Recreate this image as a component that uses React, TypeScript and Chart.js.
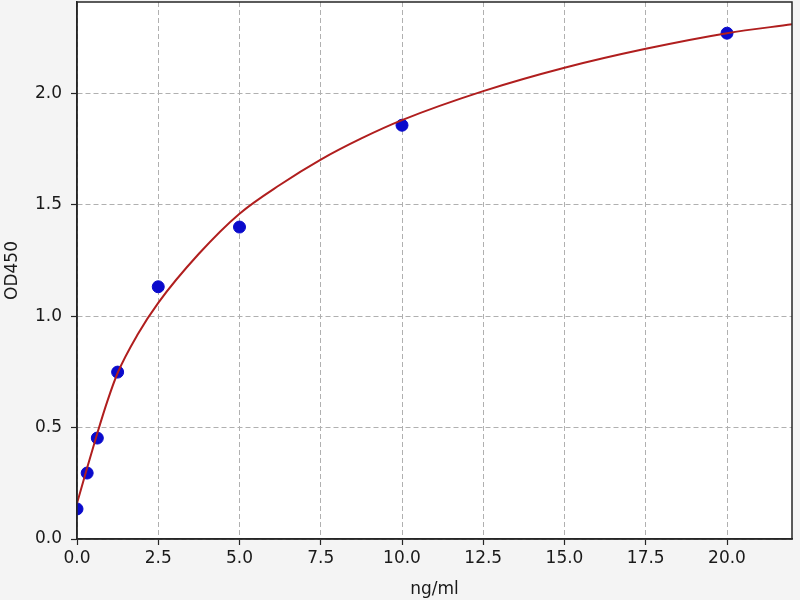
import React, { useEffect, useRef } from "react";
import { Chart, registerables } from "chart.js";

Chart.register(...registerables);

const concentrations = [0, 0.3125, 0.625, 1.25, 2.5, 5, 10, 20];
const odValues = [0.135, 0.296, 0.453, 0.749, 1.132, 1.4, 1.857, 2.27];

const curveX = [0, 0.3125, 0.625, 0.9375, 1.25, 1.875, 2.5, 3.75, 5, 6.25, 7.5, 8.75, 10, 12.5, 15, 17.5, 20, 22];
const curveY = [0.16, 0.32, 0.475, 0.62, 0.745, 0.92, 1.06, 1.28, 1.46, 1.59, 1.703, 1.798, 1.88, 2.01, 2.115, 2.2, 2.27, 2.31];

const xTicks = [0, 2.5, 5, 7.5, 10, 12.5, 15, 17.5, 20];
const yTicks = [0, 0.5, 1.0, 1.5, 2.0];

const bgPlugin = {
  id: "bgPlugin",
  beforeDraw(chart: any) {
    const { ctx, chartArea } = chart;
    ctx.save();
    ctx.fillStyle = "#f4f4f4";
    ctx.fillRect(0, 0, chart.width, chart.height);
    ctx.fillStyle = "#ffffff";
    ctx.fillRect(chartArea.left, chartArea.top, chartArea.right - chartArea.left, chartArea.bottom - chartArea.top);
    ctx.restore();
  },
  afterDraw(chart: any) {
    const { ctx, chartArea } = chart;
    ctx.save();
    ctx.strokeStyle = "#262626";
    ctx.lineWidth = 1.5;
    ctx.strokeRect(chartArea.left, chartArea.top, chartArea.right - chartArea.left, chartArea.bottom - chartArea.top);
    ctx.restore();
  },
};

export default function App() {
  const ref = useRef<HTMLCanvasElement>(null);

  useEffect(() => {
    document.body.style.margin = "0";
    const font = { family: "'DejaVu Sans', sans-serif", size: 17 };
    const chart = new Chart(ref.current as HTMLCanvasElement, {
      type: "scatter",
      data: {
        datasets: [
          {
            type: "line",
            data: curveX.map((x, i) => ({ x, y: curveY[i] })),
            borderColor: "#b01e1e",
            borderWidth: 2,
            pointRadius: 0,
            cubicInterpolationMode: "monotone",
            fill: false,
            order: 0,
            clip: 0,
          } as any,
          {
            type: "scatter",
            data: concentrations.map((x, i) => ({ x, y: odValues[i] })),
            backgroundColor: "#0a0acc",
            borderColor: "#0a0acc",
            pointRadius: 6,
            pointHoverRadius: 6,
            order: 1,
            clip: 0,
          } as any,
        ],
      },
      options: {
        animation: false,
        responsive: false,
        devicePixelRatio: 1,
        layout: { autoPadding: false, padding: { top: 2, right: 8, left: 0, bottom: 0 } },
        plugins: { legend: { display: false }, tooltip: { enabled: false } },
        scales: {
          x: {
            type: "linear",
            min: 0,
            max: 22,
            afterFit(scale: any) {
              scale.height = 61;
              scale.paddingLeft = 0;
              scale.paddingRight = 0;
            },
            afterBuildTicks(scale: any) {
              scale.ticks = xTicks.map((v) => ({ value: v }));
            },
            ticks: {
              includeBounds: false,
              font,
              color: "#1a1a1a",
              padding: 3,
              maxRotation: 0,
              autoSkip: false,
              callback: (v: any) => Number(v).toFixed(1),
            },
            grid: {
              color: "#b0b0b0",
              lineWidth: 1,
              tickColor: "#262626",
              tickLength: 6,
              tickWidth: 1.2,
              tickBorderDash: [],
              drawOnChartArea: true,
            } as any,
            border: { display: true, color: "#262626", width: 1.5, dash: [5, 3] } as any,
            title: {
              display: true,
              text: "ng/ml",
              font,
              color: "#1a1a1a",
              padding: { top: 0, bottom: 0 },
            },
          },
          y: {
            type: "linear",
            min: 0,
            max: 2.41,
            afterFit(scale: any) {
              scale.width = 77;
              scale.paddingTop = 0;
              scale.paddingBottom = 0;
            },
            afterBuildTicks(scale: any) {
              scale.ticks = yTicks.map((v) => ({ value: v }));
            },
            ticks: {
              includeBounds: false,
              font,
              color: "#1a1a1a",
              padding: 9,
              autoSkip: false,
              callback: (v: any) => Number(v).toFixed(1),
            },
            grid: {
              color: "#b0b0b0",
              lineWidth: 1,
              tickColor: "#262626",
              tickLength: 6,
              tickWidth: 1.2,
            } as any,
            border: { display: true, color: "#262626", width: 1.5, dash: [5, 3] } as any,
            title: {
              display: true,
              text: "OD450",
              font,
              color: "#1a1a1a",
              padding: { top: 2, bottom: 0 },
            },
          },
        },
      },
      plugins: [bgPlugin],
    });
    return () => chart.destroy();
  }, []);

  return (
    <div style={{ position: "fixed", left: 0, top: 0, width: 800, height: 600 }}>
      <canvas ref={ref} width={800} height={600} style={{ display: "block" }} />
    </div>
  );
}
